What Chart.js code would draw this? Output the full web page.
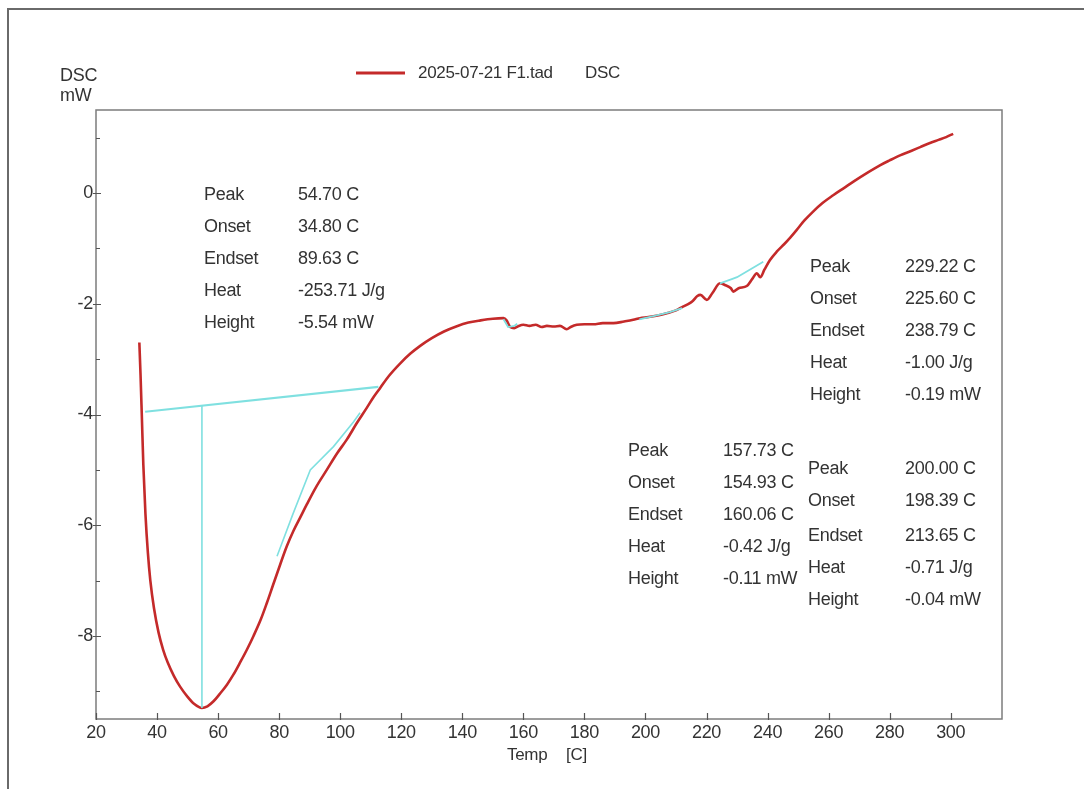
<!DOCTYPE html>
<html>
<head>
<meta charset="utf-8">
<script src="https://cdn.jsdelivr.net/npm/chart.js@4.4.1/dist/chart.umd.min.js"></script>
<style>
  html, body { margin: 0; padding: 0; background: #ffffff; }
  #wrap { width: 1084px; height: 789px; position: relative; }
</style>
</head>
<body>
<div id="wrap"><canvas id="c" width="1084" height="789"></canvas></div>
<script>
// ---- Data ----
const tempC = [34.2, 34.6, 35.0, 35.5, 36.2, 37.0, 37.8, 39.0, 40.5, 42.0, 43.5, 45.5, 47.6, 50.0, 52.0, 54.7,
  56.5, 58.5, 60.5, 62.9, 65.0, 67.3, 69.5, 71.6, 74.0, 76.0, 78.0, 80.4, 82.5, 84.7, 87.0, 89.1, 92.0, 95.6,
  99.0, 102.2, 105.5, 108.7, 111.0, 113.1, 116.0, 119.6, 123.0, 126.2, 130.0, 134.0, 138.0, 142.0, 146.0, 150.0,
  153.5, 154.5, 155.7, 157.0, 158.5, 160.0, 162.0, 164.0, 166.0, 167.7, 170.0, 172.0, 174.2, 175.5, 177.5, 180.0,
  183.0, 186.0, 189.5, 193.0, 196.0, 198.2, 201.0, 204.0, 207.0, 210.0, 212.0, 213.5, 215.5, 217.0, 218.0, 220.1,
  222.0, 224.4, 226.0, 228.0, 228.8, 230.5, 233.2, 235.0, 236.5, 237.6, 239.0, 240.8, 243.0, 245.5, 247.5, 249.5,
  252.0, 255.0, 258.0, 261.5, 265.0, 268.5, 272.5, 276.8, 280.0, 283.4, 287.0, 290.0, 293.0, 296.0, 298.5, 300.8];
const dscMW = [-2.70, -3.30, -4.00, -4.90, -5.80, -6.50, -7.00, -7.50, -7.94, -8.25, -8.48, -8.72, -8.92, -9.10, -9.22, -9.30,
  -9.27, -9.18, -9.05, -8.88, -8.70, -8.47, -8.24, -8.00, -7.70, -7.40, -7.08, -6.70, -6.38, -6.10, -5.85, -5.62, -5.32, -5.00,
  -4.70, -4.45, -4.15, -3.88, -3.68, -3.52, -3.30, -3.08, -2.90, -2.76, -2.62, -2.50, -2.41, -2.34, -2.30, -2.27,
  -2.26, -2.30, -2.42, -2.44, -2.40, -2.38, -2.40, -2.38, -2.42, -2.40, -2.41, -2.40, -2.46, -2.42, -2.38, -2.37,
  -2.37, -2.35, -2.35, -2.32, -2.29, -2.26, -2.24, -2.21, -2.17, -2.12, -2.06, -2.02, -1.95, -1.86, -1.84, -1.93,
  -1.80, -1.63, -1.66, -1.72, -1.78, -1.72, -1.68, -1.55, -1.45, -1.52, -1.38, -1.21, -1.06, -0.92, -0.80, -0.67,
  -0.50, -0.33, -0.18, -0.04, 0.09, 0.22, 0.36, 0.50, 0.59, 0.68, 0.76, 0.83, 0.90, 0.96, 1.01, 1.07];

// Evaluation (cyan) construction lines
const baseT = [36.1, 112.5];
const baseY = [-3.95, -3.50];
const peakT = [54.7, 54.7];
const peakY = [-9.30, -3.84];
const tanT = [79.3, 84.5, 90.2, 97.8, 104.4, 106.5];
const tanY = [-6.56, -5.80, -5.00, -4.58, -4.13, -3.97];
const seg2T = [153.5, 155.0, 157.0, 158.0];
const seg2Y = [-2.28, -2.42, -2.40, -2.36];
const seg3T = [198.0, 203.0, 208.0, 212.0];
const seg3Y = [-2.28, -2.22, -2.15, -2.08];
const seg4T = [224.4, 228.5, 230.0, 238.6];
const seg4Y = [-1.63, -1.55, -1.52, -1.24];

// Axis ranges and ticks
const xMin = 20, xMax = 316.8;
const xTicks = [20, 40, 60, 80, 100, 120, 140, 160, 180, 200, 220, 240, 260, 280, 300];
const yMin = -9.5, yMax = 1.5;
const yTicks = [-9, -8, -7, -6, -5, -4, -3, -2, -1, 0, 1];
const yLabelled = [-8, -6, -4, -2, 0];

// Annotation texts
const resultLabels = ['Peak', 'Onset', 'Endset', 'Heat', 'Height'];
const result1 = ['54.70 C', '34.80 C', '89.63 C', '-253.71 J/g', '-5.54 mW'];
const result2 = ['229.22 C', '225.60 C', '238.79 C', '-1.00 J/g', '-0.19 mW'];
const result3 = ['157.73 C', '154.93 C', '160.06 C', '-0.42 J/g', '-0.11 mW'];
const result4 = ['200.00 C', '198.39 C', '213.65 C', '-0.71 J/g', '-0.04 mW'];
const legendText = '2025-07-21 F1.tad';
const legendSignal = 'DSC';
const yTitle = ['DSC', 'mW'];
const xTitle = ['Temp', '[C]'];

const zip = (a, b) => a.map((v, i) => ({x: v, y: b[i]}));

const RED = '#c42a2a';
const CYAN = '#7fe0e0';
const TXT = '#333333';
const FONT = 'Liberation Sans, Arial, sans-serif';

const decor = {
  id: 'decor',
  beforeDraw(chart) {
    chart.ctx.letterSpacing = '-0.3px';
  },
  afterDraw(chart) {
    const ctx = chart.ctx;
    const a = chart.chartArea;
    const xs = chart.scales.x, ys = chart.scales.y;
    ctx.save();
    ctx.letterSpacing = '-0.3px';
    // outer frame (top and left)
    ctx.strokeStyle = '#6a6a6a';
    ctx.lineWidth = 2;
    ctx.beginPath();
    ctx.moveTo(8, 789); ctx.lineTo(8, 9); ctx.lineTo(1084, 9);
    ctx.stroke();
    // plot box
    ctx.strokeStyle = '#7c7c7c';
    ctx.lineWidth = 1.5;
    ctx.strokeRect(a.left, a.top, a.right - a.left, a.bottom - a.top);
    // tick marks
    ctx.strokeStyle = '#555';
    ctx.lineWidth = 1.2;
    ctx.beginPath();
    xs.ticks.forEach(t => {
      const px = Math.round(xs.getPixelForValue(t.value)) + 0.5;
      ctx.moveTo(px, a.bottom - 6); ctx.lineTo(px, a.bottom + 1);
    });
    ys.ticks.forEach(t => {
      const py = Math.round(ys.getPixelForValue(t.value)) + 0.5;
      if (yLabelled.includes(t.value)) { ctx.moveTo(a.left - 3, py); ctx.lineTo(a.left + 5, py); }
      else { ctx.moveTo(a.left, py); ctx.lineTo(a.left + 4, py); }
    });
    ctx.stroke();

    // texts
    ctx.fillStyle = TXT;
    ctx.textBaseline = 'middle';
    ctx.textAlign = 'left';
    ctx.font = '18px ' + FONT;
    ctx.fillText(yTitle[0], 60, 76);
    ctx.fillText(yTitle[1], 60, 96);
    // x title
    ctx.font = '17px ' + FONT;
    ctx.fillText(xTitle[0], 507, 755);
    ctx.fillText(xTitle[1], 566, 755);
    // legend
    ctx.strokeStyle = RED;
    ctx.lineWidth = 3;
    ctx.beginPath(); ctx.moveTo(356, 73); ctx.lineTo(405, 73); ctx.stroke();
    ctx.fillStyle = TXT;
    ctx.font = '17px ' + FONT;
    ctx.fillText(legendText, 418, 73);
    ctx.fillText(legendSignal, 585, 73);

    // result blocks
    ctx.font = '18px ' + FONT;
    const block = (lx, vx, ys_, vals) => {
      resultLabels.forEach((l, i) => {
        ctx.fillText(l, lx, ys_[i]);
        ctx.fillText(vals[i], vx, ys_[i]);
      });
    };
    block(204, 298, [195, 227, 259, 291, 323], result1);
    block(810, 905, [267, 299, 331, 363, 395], result2);
    block(628, 723, [451, 483, 515, 547, 579], result3);
    block(808, 905, [469, 501, 536, 568, 600], result4);
    ctx.restore();
  }
};

const cyanDs = (t, y, w) => ({
  data: zip(t, y), showLine: true, borderColor: CYAN, borderWidth: w,
  pointRadius: 0, tension: 0, order: 0
});

new Chart(document.getElementById('c'), {
  type: 'scatter',
  data: {
    datasets: [
      { data: zip(tempC, dscMW), showLine: true, borderColor: RED, borderWidth: 2.6,
        pointRadius: 0, cubicInterpolationMode: 'monotone', order: 1 },
      cyanDs(baseT, baseY, 2.2),
      cyanDs(peakT, peakY, 1.6),
      cyanDs(tanT, tanY, 1.6),
      cyanDs(seg2T, seg2Y, 1.8),
      cyanDs(seg3T, seg3Y, 1.8),
      cyanDs(seg4T, seg4Y, 1.8)
    ]
  },
  options: {
    responsive: false,
    animation: false,
    devicePixelRatio: 1,
    layout: { padding: { top: 110, right: 82, bottom: 0, left: 0 } },
    plugins: { legend: { display: false }, tooltip: { enabled: false }, title: { display: false } },
    scales: {
      x: {
        type: 'linear', min: xMin, max: xMax,
        grid: { display: false, drawTicks: false },
        border: { display: false },
        afterBuildTicks: s => { s.ticks = xTicks.map(v => ({value: v})); },
        ticks: { padding: 3, color: TXT, font: { family: FONT, size: 18 }, maxRotation: 0, autoSkip: false },
        afterFit: s => { s.height = 70; }
      },
      y: {
        type: 'linear', min: yMin, max: yMax,
        grid: { display: false, drawTicks: false },
        border: { display: false },
        afterBuildTicks: s => { s.ticks = yTicks.map(v => ({value: v})); },
        ticks: { padding: 3, color: TXT, font: { family: FONT, size: 18 }, autoSkip: false,
          callback: v => (yLabelled.includes(v) ? String(v) : '') },
        afterFit: s => { s.width = 96; }
      }
    }
  },
  plugins: [decor]
});
</script>
</body>
</html>
